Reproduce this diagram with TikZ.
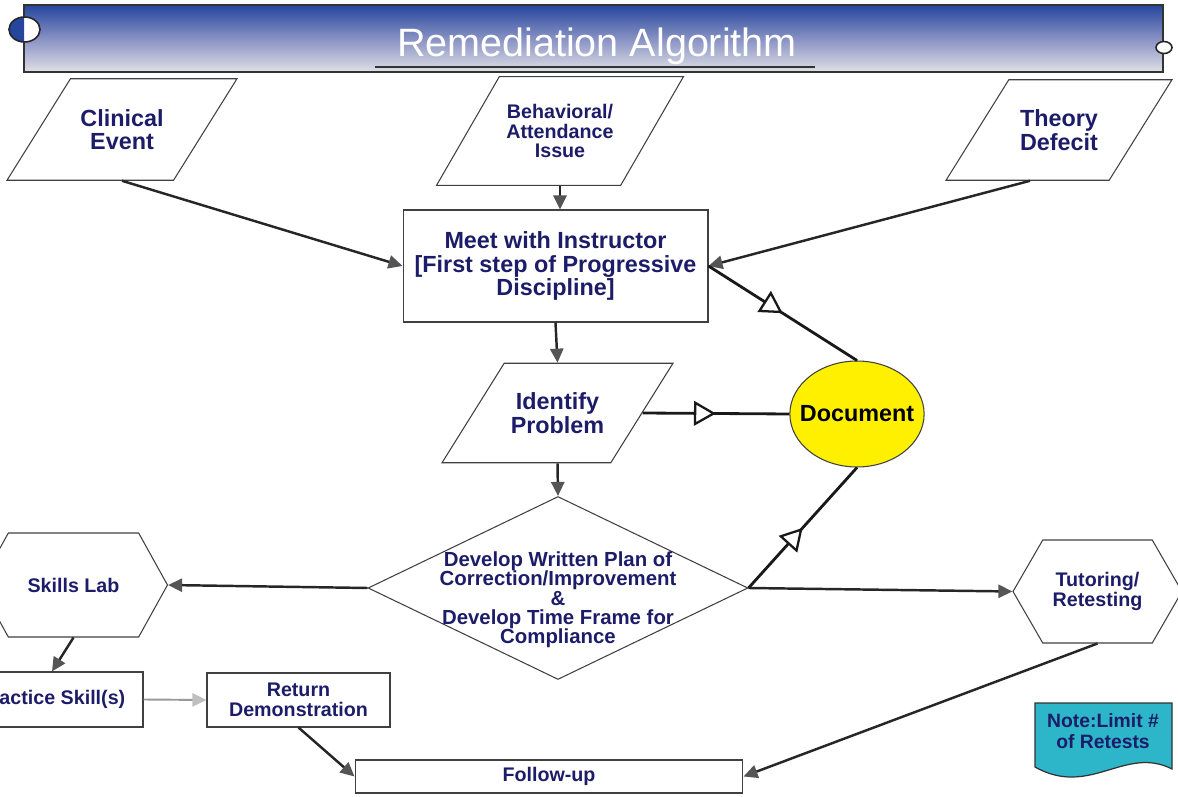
\documentclass[tikz,border=0pt]{standalone}
\usepackage{fontspec}
\setmainfont{Liberation Sans}
\usetikzlibrary{shapes.geometric,shapes.symbols,arrows.meta,decorations.markings}
\definecolor{navy}{RGB}{28,28,105}
\definecolor{tipgray}{RGB}{85,85,85}
\definecolor{docyellow}{RGB}{255,240,0}
\definecolor{noteteal}{RGB}{45,182,202}
\definecolor{bartop}{RGB}{38,70,158}
\definecolor{barmid}{RGB}{135,145,195}
\definecolor{barbot}{RGB}{224,224,230}
\tikzstyle{big}=[font=\bfseries\fontsize{13.3}{13.3}\selectfont]
\tikzstyle{small}=[font=\bfseries\fontsize{11.2}{11.2}\selectfont]
\tikzstyle{io}=[trapezium,draw=black!75,line width=0.6pt,trapezium left angle=58,trapezium right angle=122,trapezium stretches body,align=center,text=navy,inner xsep=1pt]
\tikzstyle{box}=[rectangle,draw=black!75,line width=0.6pt,align=center,text=navy,inner sep=1pt]
\tikzstyle{hexa}=[signal,signal to=east and west,signal pointer angle=122,draw=black!75,line width=0.6pt,align=center,text=navy,inner sep=1pt]
\tikzstyle{to}=[-{Triangle[length=8pt,width=7.5pt,color=tipgray]},draw=black!85,line width=1.4pt]
\tikzstyle{light}=[-{Triangle[length=8pt,width=7.5pt,color=black!25]},draw=black!40,line width=1.1pt]
\tikzstyle{todoc}=[draw=black!90,line width=1.6pt,postaction={decorate},
  decoration={markings,mark=at position 0.5 with {\arrow{Triangle[open,length=12.5pt,width=14pt,fill=white,line width=1.3pt]}}}]
\begin{document}
\begin{tikzpicture}[x=0.02cm,y=-0.02cm]
    \useasboundingbox (0,0) rectangle (1178,797);
    % title bar
    \shade[top color=bartop,bottom color=barbot,middle color=barmid] (24,5) rectangle (1163,72);
    \draw[black!80,line width=0.8pt] (24,5) rectangle (1163,72);
    \fill[white] (24.5,29.5) ellipse [x radius=15.5,y radius=12.5];
    \begin{scope}
        \clip (0,0) rectangle (24,60);
        \fill[bartop] (24.5,29.5) ellipse [x radius=15.5,y radius=12.5];
    \end{scope}
    \draw[black!85,line width=0.9pt] (24.5,29.5) ellipse [x radius=15.5,y radius=12.5];
    \draw[black!85,fill=white,line width=0.9pt] (1164,47.5) ellipse [x radius=8,y radius=6];
    \node[anchor=base,text=white,font=\fontsize{22.5}{22.5}\selectfont] (title) at (597,57) {Remediation Algorithm};
    \draw[black!80,line width=1.2pt] (375,67) -- (815,67);

    \node[io,big,inner ysep=0.61cm,minimum width=4.6cm] (clin) at (122,129.5) {Clinical\\Event};
    \node[io,small,trapezium left angle=60,trapezium right angle=120,inner ysep=0.55cm,minimum width=4.94cm] (beh) at (560,131) {Behavioral/\\Attendance\\Issue};
    \node[io,big,inner ysep=0.6cm,minimum width=4.52cm] (theory) at (1059,130) {Theory\\Defecit};
    \node[box,big,minimum width=6.1cm,minimum height=2.24cm] (meet) at (555.5,266) {Meet with Instructor\\{}[First step of Progressive\\Discipline]};
    \node[io,big,inner ysep=0.59cm,minimum width=4.62cm] (idp) at (557.5,413) {Identify\\Problem};
    \node[ellipse,draw=black!75,line width=0.6pt,fill=docyellow,big,inner xsep=-5.5pt,inner ysep=0pt,minimum width=2.64cm,minimum height=2.12cm] (doc) at (857,414) {Document};
    \node[diamond,draw=black!75,line width=0.6pt,minimum width=7.6cm,minimum height=3.66cm,inner sep=0pt] (plan) at (558,588) {};
    \node[small,text=navy,align=center,font=\bfseries\fontsize{11.6}{11}\selectfont] (plantxt) at (558,600) {Develop Written Plan of\\Correction/Improvement\\\&\\Develop Time Frame for\\Compliance};
    \node[hexa,small,minimum width=3.76cm,minimum height=2.08cm] (skills) at (73.5,585) {Skills Lab};
    \node[hexa,small,signal pointer angle=120,minimum width=3.38cm,minimum height=2.06cm] (tut) at (1097.5,591.5) {Tutoring/\\Retesting};
    \node[box,small,minimum width=3.64cm,minimum height=1.1cm] (prac) at (52,699.5) {Practice Skill(s)};
    \node[box,small,minimum width=3.66cm,minimum height=1.08cm] (ret) at (298.5,700) {Return\\Demonstration};
    \node[box,small,minimum width=7.76cm,minimum height=0.66cm] (follow) at (549,776.5) {Follow-up};
    \filldraw[fill=noteteal,draw=black!80,line width=0.7pt] (1035,703) -- (1172,703) -- (1172,769)
        .. controls (1125,745) and (1090,798) .. (1035,767) -- cycle;
    \node[text=navy,align=center,font=\bfseries\fontsize{11}{12}\selectfont] (note) at (1103,731) {Note:Limit \#\\of Retests};

    \draw[to] (clin.south) -- (meet.west);
    \draw[to] (beh.south) -- (beh.south |- meet.north);
    \draw[to] ([xshift=-0.58cm]theory.south) -- (meet.east);
    \draw[to] (meet.south) -- (idp.north);
    \draw[to] (idp.south) -- (plan.north);
    \draw[to] (plan.west) -- (skills.east);
    \draw[to] (plan.east) -- (tut.west);
    \draw[to] (skills.south) -- (prac.north);
    \draw[light] (prac.east) -- (ret.west);
    \draw[to] (ret.south) -- (follow.west);
    \draw[to] (tut.south) -- (follow.east);
    \draw[todoc] (meet.east) -- (doc.north);
    \draw[todoc] (idp.east) -- (doc.west);
    \draw[todoc] (plan.east) -- (doc.south);
\end{tikzpicture}
\end{document}
